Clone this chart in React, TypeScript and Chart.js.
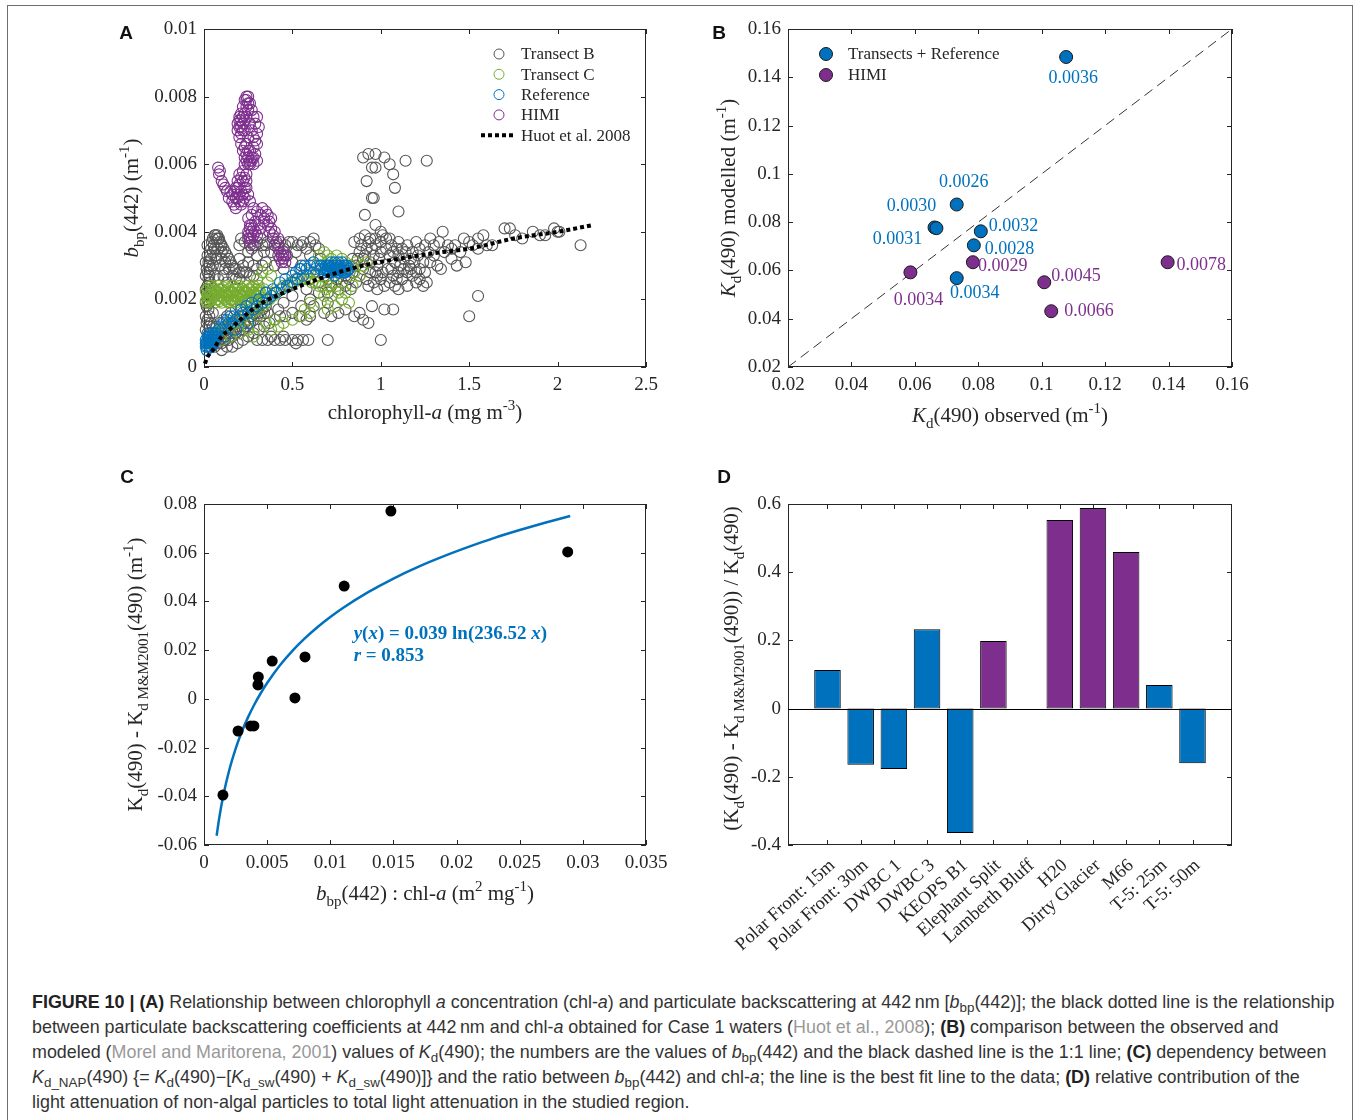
import React, { useEffect, useRef } from "react";
import { Chart, registerables } from "chart.js";

Chart.register(...registerables);

const SERIF = '"Liberation Serif", "Times New Roman", Times, serif';
const SANS = '"Liberation Sans", Arial, Helvetica, sans-serif';
const AXIS_COLOR = "#262626";
const GRAY = "#555555";
const GREEN = "#77AC30";
const BLUE = "#0072BD";
const PURPLE = "#7E2F8E";

// ---------------- Panel A: chl-a vs bbp(442) ----------------
const aXTicks = [0, 0.5, 1, 1.5, 2, 2.5];
const aYTicks = [0, 0.002, 0.004, 0.006, 0.008, 0.01];

const transectB: [number, number][] = [
  [0.02, 0.002], [0.02, 0.0024], [0.02, 0.0028], [0.025, 0.0026], [0.03, 0.003], [0.03, 0.0022], [0.035, 0.0033],
  [0.04, 0.0035], [0.045, 0.0037], [0.05, 0.0038], [0.06, 0.0039], [0.07, 0.0038], [0.08, 0.0038], [0.09, 0.0037],
  [0.1, 0.0036], [0.11, 0.0035], [0.12, 0.0034], [0.13, 0.0033], [0.14, 0.0032], [0.15, 0.0031], [0.16, 0.003],
  [0.17, 0.0029], [0.18, 0.0029], [0.2, 0.0028], [0.22, 0.0028], [0.24, 0.0028], [0.26, 0.0027], [0.28, 0.0027],
  [0.05, 0.003], [0.07, 0.0032], [0.09, 0.003], [0.1, 0.0032], [0.12, 0.0029], [0.08, 0.0026], [0.06, 0.0027],
  [0.04, 0.0029], [0.11, 0.0027], [0.13, 0.0025], [0.02, 0.001], [0.02, 0.0014], [0.025, 0.0017], [0.03, 0.0012],
  [0.03, 0.0008], [0.04, 0.001], [0.05, 0.0012], [0.06, 0.0009], [0.02, 0.0033], [0.015, 0.0029], [0.015, 0.0022],
  [0.015, 0.0018], [0.015, 0.0013],
  [0.01, 0.0007], [0.01, 0.0011], [0.01, 0.0015], [0.01, 0.0019], [0.01, 0.0023], [0.01, 0.0027], [0.01, 0.0031],
  [0.02, 0.0036], [0.025, 0.0031], [0.03, 0.0027], [0.03, 0.0019], [0.03, 0.0015], [0.035, 0.0025], [0.04, 0.0032],
  [0.04, 0.0013], [0.045, 0.0022], [0.05, 0.0034], [0.05, 0.0016], [0.055, 0.0036], [0.06, 0.0035], [0.065, 0.0039],
  [0.075, 0.0039], [0.085, 0.0038], [0.095, 0.0036], [0.065, 0.0033], [0.08, 0.0035], [0.1, 0.0034], [0.12, 0.0031],
  [0.14, 0.0029], [0.16, 0.0027], [0.18, 0.0026], [0.2, 0.0026],
  [0.2, 0.0036], [0.23, 0.0037], [0.26, 0.0036], [0.3, 0.0037], [0.33, 0.0036], [0.36, 0.0037], [0.4, 0.0036],
  [0.43, 0.0037], [0.46, 0.0036], [0.5, 0.0037], [0.53, 0.0036], [0.56, 0.0037], [0.6, 0.0037], [0.63, 0.0036],
  [0.38, 0.0034], [0.45, 0.0035], [0.52, 0.0034], [0.3, 0.0033], [0.25, 0.0034], [0.42, 0.0033], [0.58, 0.0035],
  [0.35, 0.0031], [0.28, 0.003], [0.4, 0.003], [0.5, 0.0031], [0.45, 0.0029], [0.55, 0.003], [0.2, 0.0032],
  [0.22, 0.003], [0.25, 0.0031], [0.3, 0.0029], [0.33, 0.003],
  [0.21, 0.0038], [0.25, 0.0038], [0.29, 0.0036], [0.32, 0.0038], [0.35, 0.0036], [0.39, 0.0038], [0.42, 0.0036],
  [0.48, 0.0037], [0.55, 0.0036], [0.62, 0.0038], [0.65, 0.0035], [0.27, 0.0035], [0.34, 0.0034], [0.47, 0.0033],
  [0.6, 0.0033], [0.66, 0.0032],
  [0.04, 0.0006], [0.06, 0.0006], [0.08, 0.0007], [0.1, 0.0007], [0.12, 0.0008], [0.14, 0.0008], [0.16, 0.0009],
  [0.18, 0.001], [0.2, 0.001], [0.22, 0.0011], [0.24, 0.0012], [0.26, 0.0013], [0.28, 0.0014], [0.3, 0.0015],
  [0.32, 0.0015], [0.34, 0.0016], [0.36, 0.0016], [0.1, 0.001], [0.12, 0.0011], [0.15, 0.0012], [0.17, 0.0013],
  [0.2, 0.0014], [0.22, 0.0015], [0.25, 0.0016], [0.08, 0.0009], [0.1, 0.0005], [0.13, 0.0006], [0.16, 0.0006],
  [0.19, 0.0007], [0.22, 0.0008], [0.25, 0.0009], [0.28, 0.001], [0.31, 0.0011], [0.34, 0.0012], [0.37, 0.0013],
  [0.4, 0.0014], [0.43, 0.0015], [0.46, 0.0015], [0.5, 0.0016], [0.54, 0.0015], [0.58, 0.0014], [0.6, 0.0015],
  [0.05, 0.0007], [0.07, 0.0008], [0.09, 0.0008], [0.11, 0.0009], [0.13, 0.001], [0.15, 0.001], [0.17, 0.0011],
  [0.19, 0.0012], [0.21, 0.0012], [0.23, 0.0013], [0.25, 0.0014], [0.27, 0.0015], [0.29, 0.0016], [0.31, 0.0016],
  [0.33, 0.0017], [0.35, 0.0018], [0.07, 0.0012], [0.09, 0.0013], [0.11, 0.0014], [0.13, 0.0015], [0.15, 0.0016],
  [0.18, 0.0017], [0.21, 0.0018], [0.24, 0.0019],
  [0.3, 0.0008], [0.33, 0.0008], [0.36, 0.0008], [0.4, 0.0008], [0.43, 0.0008], [0.46, 0.0008], [0.5, 0.0008],
  [0.53, 0.0008], [0.56, 0.0008], [0.59, 0.0008], [0.38, 0.0009], [0.45, 0.0009], [0.52, 0.0007], [0.7, 0.0008],
  [1.0, 0.0008],
  [0.35, 0.002], [0.4, 0.0022], [0.45, 0.0019], [0.5, 0.0021], [0.55, 0.0018], [0.6, 0.002], [0.65, 0.0022],
  [0.42, 0.0017], [0.48, 0.0024], [0.52, 0.0026], [0.58, 0.0023], [0.62, 0.0018], [0.68, 0.0016], [0.7, 0.0019],
  [0.72, 0.0015], [0.76, 0.0016], [0.8, 0.0017], [0.85, 0.0015], [0.9, 0.0014], [0.93, 0.0013], [0.95, 0.0018],
  [1.02, 0.0017], [1.07, 0.0017], [0.88, 0.0016],
  [0.6, 0.0026], [0.62, 0.0028], [0.65, 0.0025], [0.68, 0.0027], [0.7, 0.0026], [0.72, 0.0024], [0.75, 0.0026],
  [0.78, 0.0025], [0.8, 0.0027], [0.82, 0.0026], [0.84, 0.0028], [0.86, 0.0025], [0.88, 0.0027], [0.9, 0.0029],
  [0.92, 0.0026], [0.94, 0.0028], [0.96, 0.0025], [0.98, 0.0027], [1.0, 0.0026], [0.86, 0.003], [0.9, 0.0032],
  [0.94, 0.0031], [0.98, 0.003], [0.88, 0.0034], [0.92, 0.0035], [0.96, 0.0033], [1.0, 0.0034], [0.85, 0.0037],
  [0.88, 0.0038], [0.91, 0.0039], [0.94, 0.0038], [0.97, 0.0038], [1.0, 0.0037], [1.03, 0.0038], [1.06, 0.0036],
  [1.1, 0.0037], [1.12, 0.0035], [1.15, 0.0036], [1.18, 0.0034], [1.2, 0.0037], [1.22, 0.0035], [1.25, 0.0036],
  [1.28, 0.0038], [1.3, 0.0036], [1.33, 0.0037], [1.35, 0.004], [1.05, 0.0033], [1.08, 0.0031], [1.1, 0.0033],
  [1.13, 0.0032], [1.16, 0.003], [1.19, 0.0031], [1.22, 0.0029], [1.04, 0.0029], [1.07, 0.0027], [1.1, 0.0028],
  [1.12, 0.0026], [1.15, 0.0028], [1.18, 0.0027], [1.2, 0.0025], [1.22, 0.0026], [1.24, 0.0024], [1.26, 0.0025],
  [1.08, 0.0024], [1.1, 0.0023], [1.05, 0.0025], [1.02, 0.0024], [0.98, 0.0023], [1.15, 0.0024], [1.25, 0.0028],
  [1.28, 0.0031], [1.3, 0.0033], [1.32, 0.003], [1.34, 0.0029], [1.36, 0.0034], [1.38, 0.0036],
  [0.87, 0.0032], [0.91, 0.0033], [0.95, 0.0035], [0.99, 0.0032], [1.03, 0.0035], [1.07, 0.0034], [1.11, 0.003],
  [1.14, 0.0034], [1.17, 0.0032], [1.21, 0.0033], [1.24, 0.0031], [1.27, 0.0034], [1.06, 0.0029], [1.09, 0.0026],
  [1.13, 0.0029], [1.17, 0.0029], [1.2, 0.0028], [0.93, 0.0024], [0.97, 0.0028], [1.01, 0.0028], [0.89, 0.0036],
  [0.93, 0.0037], [0.97, 0.0036], [1.01, 0.0039], [1.05, 0.0038], [1.09, 0.0035], [0.84, 0.0032], [0.82, 0.0029],
  [0.8, 0.0024], [0.83, 0.0023], [0.76, 0.0023], [0.7, 0.0022],
  [1.4, 0.0035], [1.42, 0.0036], [1.45, 0.0034], [1.47, 0.0038], [1.5, 0.0037], [1.52, 0.0036], [1.55, 0.0038],
  [1.58, 0.0039], [1.6, 0.0036], [1.63, 0.0036], [1.48, 0.0031], [1.55, 0.0035], [1.7, 0.0041], [1.73, 0.0041],
  [1.76, 0.0039], [1.8, 0.0038], [1.86, 0.004], [1.9, 0.0039], [1.93, 0.0039], [1.98, 0.0041], [2.0, 0.004],
  [2.01, 0.004], [2.13, 0.0036], [1.5, 0.0015], [1.55, 0.0021], [1.4, 0.0032], [1.43, 0.003],
  [0.9, 0.0062], [0.93, 0.0063], [0.97, 0.0063], [1.02, 0.0062], [1.14, 0.0061], [1.26, 0.0061], [0.92, 0.0055],
  [0.95, 0.0059], [0.97, 0.0059], [1.05, 0.006], [1.07, 0.0057], [1.08, 0.0053], [0.95, 0.005], [0.96, 0.005],
  [0.91, 0.0045], [1.1, 0.0046], [0.97, 0.0042], [1.0, 0.004],
];

const transectC: [number, number][] = [
  [0.02, 0.0019], [0.02, 0.0021], [0.02, 0.0023], [0.04, 0.002], [0.04, 0.0022], [0.04, 0.0024], [0.06, 0.0019],
  [0.06, 0.0021], [0.06, 0.0023], [0.08, 0.002], [0.08, 0.0022], [0.08, 0.0024], [0.1, 0.0019], [0.1, 0.0021],
  [0.1, 0.0023], [0.12, 0.002], [0.12, 0.0022], [0.12, 0.0024], [0.14, 0.0019], [0.14, 0.0021], [0.14, 0.0023],
  [0.16, 0.002], [0.16, 0.0022], [0.16, 0.0024], [0.18, 0.0019], [0.18, 0.0021], [0.18, 0.0023], [0.2, 0.002],
  [0.2, 0.0022], [0.2, 0.0024], [0.22, 0.0021], [0.22, 0.0023], [0.24, 0.002], [0.24, 0.0022], [0.24, 0.0024],
  [0.26, 0.0021], [0.26, 0.0023], [0.28, 0.0022], [0.28, 0.0024], [0.3, 0.0021], [0.3, 0.0023], [0.32, 0.0022],
  [0.34, 0.0023], [0.36, 0.0025], [0.3, 0.0026], [0.33, 0.0028], [0.36, 0.0029], [0.38, 0.0027],
  [0.01, 0.00195], [0.03, 0.00205], [0.05, 0.00215], [0.07, 0.00225], [0.09, 0.00195], [0.11, 0.00205],
  [0.13, 0.00215], [0.15, 0.00225], [0.17, 0.00195], [0.19, 0.00205], [0.21, 0.00215], [0.23, 0.00225],
  [0.25, 0.00195], [0.27, 0.00205], [0.29, 0.00215], [0.31, 0.00225], [0.33, 0.00205], [0.01, 0.00225],
  [0.03, 0.00195], [0.05, 0.00235], [0.07, 0.002], [0.09, 0.0023], [0.11, 0.00235], [0.13, 0.00195], [0.15, 0.002],
  [0.17, 0.0023], [0.19, 0.00235], [0.21, 0.002], [0.23, 0.00195], [0.25, 0.0023], [0.27, 0.00235], [0.29, 0.002],
  [0.31, 0.0024], [0.35, 0.0022],
  [0.025, 0.0021], [0.045, 0.0021], [0.065, 0.0022], [0.085, 0.0021], [0.105, 0.0022], [0.125, 0.0021],
  [0.145, 0.0022], [0.165, 0.0021], [0.185, 0.0022], [0.205, 0.0021], [0.225, 0.0022], [0.245, 0.0021],
  [0.265, 0.0022], [0.285, 0.0021], [0.305, 0.0022],
  [0.03, 0.0008], [0.05, 0.0009], [0.07, 0.001], [0.09, 0.0011], [0.11, 0.0011], [0.13, 0.0012], [0.15, 0.0013],
  [0.17, 0.0013], [0.19, 0.0014], [0.21, 0.0014], [0.23, 0.0015], [0.25, 0.0016], [0.27, 0.0016], [0.29, 0.0017],
  [0.31, 0.0017], [0.33, 0.0018], [0.35, 0.0019], [0.37, 0.002], [0.39, 0.0021], [0.41, 0.0022], [0.43, 0.0023],
  [0.45, 0.0024], [0.47, 0.0024], [0.49, 0.0025], [0.51, 0.0025], [0.53, 0.0026], [0.55, 0.0026], [0.57, 0.0026],
  [0.59, 0.0026], [0.61, 0.0025], [0.63, 0.0025], [0.65, 0.0024], [0.67, 0.0024], [0.69, 0.0023], [0.71, 0.0024],
  [0.73, 0.0025],
  [0.2, 0.001], [0.25, 0.0011], [0.3, 0.0012], [0.35, 0.0013], [0.4, 0.0014], [0.45, 0.0013], [0.5, 0.0014],
  [0.55, 0.0015], [0.6, 0.0016], [0.38, 0.0011], [0.42, 0.0012], [0.28, 0.0009], [0.15, 0.0009], [0.1, 0.0008],
  [0.66, 0.0019], [0.7, 0.0017], [0.74, 0.0018], [0.78, 0.002], [0.8, 0.0022], [0.82, 0.0019], [0.76, 0.0022],
  [0.72, 0.0021], [0.68, 0.0021], [0.75, 0.0024], [0.84, 0.0024], [0.6, 0.0019], [0.57, 0.0017],
  [0.62, 0.0031], [0.65, 0.0033], [0.68, 0.0034], [0.7, 0.0033], [0.72, 0.0032], [0.75, 0.0033], [0.78, 0.0032],
  [0.8, 0.0031], [0.83, 0.003], [0.86, 0.0031], [0.9, 0.003], [0.66, 0.003], [0.69, 0.0029], [0.85, 0.0028],
  [0.88, 0.0027], [0.6, 0.0028], [0.64, 0.0027], [0.92, 0.0031], [0.7, 0.0031], [0.76, 0.003],
];

const reference: [number, number][] = [
  [0.02, 0.0006], [0.025, 0.0007], [0.03, 0.0006], [0.03, 0.0008], [0.035, 0.0007], [0.04, 0.0008], [0.04, 0.0006],
  [0.045, 0.0009], [0.05, 0.0008], [0.055, 0.0009], [0.06, 0.001], [0.07, 0.001], [0.08, 0.0011], [0.1, 0.0011],
  [0.01, 0.0006], [0.015, 0.0007], [0.02, 0.0008], [0.025, 0.0009], [0.03, 0.001], [0.035, 0.0009], [0.04, 0.0007],
  [0.045, 0.0007], [0.05, 0.001], [0.055, 0.0007], [0.015, 0.0005], [0.06, 0.0008], [0.065, 0.0009], [0.02, 0.0009],
  [0.01, 0.0008],
  [0.12, 0.0012], [0.14, 0.0013], [0.16, 0.0013], [0.18, 0.0014], [0.2, 0.0015], [0.22, 0.0016], [0.25, 0.0016],
  [0.28, 0.0017], [0.3, 0.0018], [0.33, 0.0019], [0.36, 0.002], [0.38, 0.0021], [0.41, 0.0022], [0.44, 0.0023],
  [0.47, 0.0024], [0.5, 0.0025], [0.53, 0.0026], [0.56, 0.0027], [0.58, 0.0029], [0.6, 0.003], [0.55, 0.0029],
  [0.52, 0.0028], [0.12, 0.0009], [0.18, 0.0011], [0.25, 0.0013],
  [0.09, 0.0012], [0.11, 0.0013], [0.13, 0.0014], [0.15, 0.0015], [0.17, 0.0015], [0.21, 0.0017], [0.24, 0.0018],
  [0.27, 0.0019], [0.31, 0.002], [0.35, 0.0022], [0.39, 0.0023], [0.43, 0.0025], [0.46, 0.0026], [0.5, 0.0027],
  [0.54, 0.0029], [0.57, 0.003], [0.62, 0.0031], [0.64, 0.003],
  [0.63, 0.0029], [0.66, 0.0029], [0.68, 0.0028], [0.7, 0.0029], [0.72, 0.0028], [0.74, 0.0029], [0.76, 0.0028],
  [0.78, 0.0029], [0.8, 0.003], [0.71, 0.003], [0.73, 0.003], [0.75, 0.003], [0.77, 0.003], [0.79, 0.0028],
  [0.69, 0.003], [0.74, 0.0027], [0.7, 0.00285], [0.72, 0.00295], [0.74, 0.00285], [0.76, 0.00295], [0.78, 0.00285],
  [0.8, 0.00285], [0.82, 0.0029], [0.71, 0.0028], [0.73, 0.0029], [0.75, 0.0029], [0.77, 0.0029], [0.79, 0.003],
  [0.81, 0.003], [0.68, 0.0029], [0.66, 0.003], [0.8, 0.0028], [0.76, 0.0031], [0.72, 0.0031],
  [0.69, 0.00285], [0.71, 0.00295], [0.73, 0.00285], [0.75, 0.00285], [0.77, 0.00285], [0.79, 0.00295],
  [0.81, 0.00285], [0.7, 0.003], [0.78, 0.0031], [0.74, 0.0031],
];

const himi: [number, number][] = [
  [0.2, 0.0073], [0.21, 0.0075], [0.22, 0.0077], [0.23, 0.0079], [0.24, 0.008], [0.25, 0.008], [0.26, 0.0078],
  [0.27, 0.0076], [0.28, 0.0074], [0.2, 0.0071], [0.21, 0.0069], [0.22, 0.0072], [0.23, 0.007], [0.24, 0.0074],
  [0.25, 0.0076], [0.26, 0.0072], [0.27, 0.007], [0.28, 0.0068], [0.3, 0.0074], [0.29, 0.0072], [0.21, 0.0066],
  [0.22, 0.0064], [0.23, 0.0062], [0.24, 0.0061], [0.25, 0.006], [0.26, 0.0061], [0.27, 0.0062], [0.28, 0.006],
  [0.29, 0.0063], [0.3, 0.0061], [0.26, 0.0064], [0.24, 0.0066], [0.25, 0.0068],
  [0.19, 0.0072], [0.2, 0.0074], [0.21, 0.0073], [0.22, 0.0074], [0.23, 0.0073], [0.19, 0.007], [0.21, 0.0071],
  [0.22, 0.007], [0.2, 0.0068], [0.23, 0.0075], [0.24, 0.0077], [0.25, 0.0078], [0.24, 0.0079],
  [0.23, 0.006], [0.24, 0.0063], [0.25, 0.0062], [0.26, 0.006], [0.27, 0.0061], [0.25, 0.0064], [0.23, 0.0065],
  [0.28, 0.0062], [0.28, 0.0065], [0.29, 0.0067], [0.3, 0.0069], [0.31, 0.0071], [0.3, 0.0066],
  [0.08, 0.0059], [0.09, 0.0058], [0.085, 0.0057], [0.1, 0.0055], [0.11, 0.0054], [0.12, 0.0053], [0.13, 0.0052],
  [0.14, 0.005], [0.16, 0.0051], [0.18, 0.0053], [0.2, 0.0054], [0.22, 0.0055], [0.24, 0.0053], [0.25, 0.0051],
  [0.17, 0.0048], [0.19, 0.005], [0.21, 0.0048], [0.23, 0.005], [0.2, 0.0057], [0.22, 0.0058], [0.18, 0.0047],
  [0.24, 0.0057], [0.15, 0.0052], [0.17, 0.0052], [0.19, 0.0053], [0.2, 0.0051], [0.21, 0.0052], [0.22, 0.0051],
  [0.23, 0.0053], [0.24, 0.0055], [0.18, 0.005], [0.2, 0.0049], [0.22, 0.0049], [0.16, 0.0049], [0.19, 0.0055],
  [0.21, 0.0056], [0.23, 0.0056],
  [0.26, 0.0049], [0.28, 0.0047], [0.3, 0.0046], [0.32, 0.0045], [0.34, 0.0044], [0.36, 0.0045],
  [0.38, 0.0044], [0.27, 0.0045], [0.29, 0.0043], [0.31, 0.0042], [0.25, 0.0044], [0.26, 0.0042], [0.27, 0.004],
  [0.25, 0.0039], [0.27, 0.0038], [0.26, 0.0037], [0.28, 0.0036], [0.38, 0.0041], [0.4, 0.004], [0.42, 0.0038],
  [0.4, 0.0036], [0.43, 0.0034], [0.45, 0.0033], [0.45, 0.0032], [0.44, 0.0031], [0.46, 0.0031], [0.36, 0.0042],
  [0.33, 0.0047], [0.26, 0.0041], [0.27, 0.0042], [0.28, 0.0039], [0.25, 0.004], [0.26, 0.0038], [0.28, 0.0041],
  [0.29, 0.004], [0.3, 0.0039], [0.32, 0.0041], [0.34, 0.0043], [0.43, 0.0032], [0.44, 0.0033], [0.46, 0.0033],
  [0.45, 0.0034], [0.42, 0.0035], [0.41, 0.0037], [0.39, 0.0039], [0.37, 0.004], [0.35, 0.0046], [0.37, 0.0043],
];

const huot: [number, number][] = [
  [0.005, 0.0001], [0.02, 0.0003], [0.05, 0.0005], [0.1, 0.0009], [0.16, 0.00118], [0.25, 0.0016], [0.33, 0.0019],
  [0.5, 0.0023], [0.7, 0.0027], [0.9, 0.003], [1.1, 0.0032], [1.32, 0.00338], [1.5, 0.0035], [1.75, 0.0038],
  [2.0, 0.004], [2.2, 0.0042],
];

const legendOrderA = ["Transect B", "Transect C", "Reference", "HIMI", "Huot et al. 2008"];

// ---------------- Panel B: Kd observed vs modelled ----------------
const bTicks = [0.02, 0.04, 0.06, 0.08, 0.1, 0.12, 0.14, 0.16];
const kdObsTransects = [0.1077, 0.0732, 0.0662, 0.0668, 0.0808, 0.0786, 0.0732];
const kdModTransects = [0.1484, 0.0873, 0.0778, 0.0775, 0.0762, 0.0704, 0.0568];
const bbpTransects = ["0.0036", "0.0026", "0.0030", "0.0031", "0.0032", "0.0028", "0.0034"];
const kdObsHimi = [0.0586, 0.0783, 0.1008, 0.103, 0.1397];
const kdModHimi = [0.0592, 0.0634, 0.0551, 0.0431, 0.0634];
const bbpHimi = ["0.0034", "0.0029", "0.0045", "0.0066", "0.0078"];
const oneToOne = [0.02, 0.16];
// label placement (pixel offsets from the marker, text alignment)
const labelOffsetsTransects: [number, number, CanvasTextAlign][] = [
  [7, 21, "center"], [7, -22, "center"], [-23, -21, "center"], [-39, 11, "center"],
  [8, -5, "left"], [11, 4, "left"], [18, 15, "center"],
];
const labelOffsetsHimi: [number, number, CanvasTextAlign][] = [
  [8, 28, "center"], [5, 4, "left"], [7, -6, "left"], [13, 0, "left"], [9, 3, "left"],
];

// ---------------- Panel C: ratio vs Kd difference ----------------
const cXTicks = [0, 0.005, 0.01, 0.015, 0.02, 0.025, 0.03, 0.035];
const cYTicks = [-0.06, -0.04, -0.02, 0, 0.02, 0.04, 0.06, 0.08];
const ratioC = [0.0015, 0.0027, 0.0037, 0.00395, 0.00427, 0.0043, 0.0054, 0.0072, 0.008, 0.0111, 0.0148, 0.0288];
const diffC = [-0.0395, -0.0132, -0.0111, -0.0111, 0.0057, 0.009, 0.0155, 0.0004, 0.0172, 0.0463, 0.0771, 0.0603];
const fitC: [number, number][] = [
  [0.001, -0.0562], [0.0012, -0.0491], [0.0015, -0.0404], [0.002, -0.0292], [0.0025, -0.0205], [0.003, -0.0134],
  [0.0035, -0.0074], [0.004, -0.0022], [0.0045, 0.0024], [0.005, 0.0065], [0.006, 0.0137], [0.007, 0.0197],
  [0.008, 0.0249], [0.009, 0.0295], [0.01, 0.0336], [0.011, 0.0373], [0.013, 0.0438], [0.015, 0.0494],
  [0.017, 0.0543], [0.019, 0.0586], [0.021, 0.0625], [0.023, 0.0661], [0.025, 0.0693], [0.027, 0.0723],
  [0.029, 0.0751],
];
const fitEquation = { coef: "0.039", scale: "236.52", r: "0.853" };
const fitTextAnchor = { x: 0.01185, y: 0.027 };

// ---------------- Panel D: relative contribution ----------------
const dYTicks = [-0.4, -0.2, 0, 0.2, 0.4, 0.6];
const sites = [
  "Polar Front: 15m", "Polar Front: 30m", "DWBC 1", "DWBC 3", "KEOPS B1", "Elephant Split",
  "Lamberth Bluff", "H20", "Dirty Glacier", "M66", "T-5: 25m", "T-5: 50m",
];
const contribution = [0.113, -0.165, -0.177, 0.233, -0.365, 0.198, 0.0, 0.553, 0.588, 0.459, 0.069, -0.16];
const siteGroup = ["T", "T", "T", "T", "T", "H", "H", "H", "H", "H", "T", "T"];

// ---------------- helpers ----------------
type Seg = { t: string; sub?: boolean; sup?: boolean; it?: boolean; b?: boolean };

const fmt = (v: any) => String(parseFloat(Number(v).toFixed(4)));

function richText(ctx: CanvasRenderingContext2D, segs: Seg[], x: number, y: number, size: number, color: string,
  rotate = 0, align: "center" | "left" = "center", family = SERIF) {
  ctx.save();
  ctx.translate(x, y);
  if (rotate) ctx.rotate(rotate);
  ctx.fillStyle = color;
  ctx.textBaseline = "alphabetic";
  ctx.textAlign = "left";
  const fontFor = (s: Seg) =>
    `${s.it ? "italic " : ""}${s.b ? "bold " : ""}${s.sub || s.sup ? Math.round(size * 0.72) : size}px ${family}`;
  let total = 0;
  const widths = segs.map((s) => {
    ctx.font = fontFor(s);
    const w = ctx.measureText(s.t).width;
    total += w;
    return w;
  });
  let cx = align === "center" ? -total / 2 : 0;
  const base = size * 0.33;
  segs.forEach((s, i) => {
    ctx.font = fontFor(s);
    const dy = s.sub ? size * 0.3 : s.sup ? -size * 0.42 : 0;
    ctx.fillText(s.t, cx, base + dy);
    cx += widths[i];
  });
  ctx.restore();
}

function valueAxis(min: number, max: number, ticks: number[], fit: "width" | "height", size: number, extra: any = {}) {
  return {
    type: "linear",
    min,
    max,
    offset: false,
    grid: { display: false, drawTicks: false, offset: false },
    border: { display: false },
    afterBuildTicks: (s: any) => {
      s.ticks = ticks.map((v) => ({ value: v }));
    },
    afterFit: (s: any) => {
      s[fit] = size;
      s.paddingLeft = 0;
      s.paddingRight = 0;
      s.paddingTop = 0;
      s.paddingBottom = 0;
    },
    ticks: {
      color: AXIS_COLOR,
      font: { family: SERIF, size: 19 },
      padding: 7,
      autoSkip: false,
      maxRotation: 0,
      minRotation: 0,
      callback: (v: any) => fmt(v),
      ...extra,
    },
  };
}

function baseOptions(x: any, y: any, padTop: number, padRight: number) {
  return {
    responsive: false,
    animation: false,
    events: [],
    layout: { autoPadding: false, padding: { top: padTop, right: padRight, left: 0, bottom: 0 } },
    plugins: { legend: { display: false }, tooltip: { enabled: false }, title: { display: false } },
    scales: { x, y },
  };
}

const axesPlugin = {
  id: "matlabAxes",
  beforeDatasetsDraw(chart: any) {
    const { ctx, chartArea: a, scales } = chart;
    ctx.save();
    ctx.strokeStyle = AXIS_COLOR;
    ctx.lineWidth = 1;
    ctx.strokeRect(a.left + 0.5, a.top + 0.5, a.right - a.left - 1, a.bottom - a.top - 1);
    const xs = scales.x;
    const ys = scales.y;
    ctx.beginPath();
    xs.ticks.forEach((_: any, i: number) => {
      const p = Math.round(xs.getPixelForTick(i)) + 0.5;
      ctx.moveTo(p, a.bottom);
      ctx.lineTo(p, a.bottom - 5);
      ctx.moveTo(p, a.top);
      ctx.lineTo(p, a.top + 5);
    });
    ys.ticks.forEach((_: any, i: number) => {
      const p = Math.round(ys.getPixelForTick(i)) + 0.5;
      ctx.moveTo(a.left, p);
      ctx.lineTo(a.left + 5, p);
      ctx.moveTo(a.right, p);
      ctx.lineTo(a.right - 5, p);
    });
    ctx.stroke();
    ctx.restore();
  },
};

function titlesPlugin(xTitle: Seg[] | null, xOffset: number, yTitle: Seg[] | null, yOffset: number, yShift = 0) {
  return {
    id: "axisTitles",
    afterDraw(chart: any) {
      const { ctx, chartArea: a } = chart;
      if (xTitle) richText(ctx, xTitle, (a.left + a.right) / 2, a.bottom + xOffset, 21, AXIS_COLOR);
      if (yTitle) richText(ctx, yTitle, a.left - yOffset, (a.top + a.bottom) / 2 + yShift, 21, AXIS_COLOR, -Math.PI / 2);
    },
  };
}

const pts = (arr: [number, number][]) => arr.map(([x, y]) => ({ x, y }));

// ---------------- chart configs ----------------
function configA() {
  const circles = (data: [number, number][], color: string, order: number, label: string) => ({
    label,
    data: pts(data),
    showLine: false,
    pointRadius: 5.5,
    pointHoverRadius: 5.5,
    pointBorderWidth: 1.1,
    pointBorderColor: color,
    pointBackgroundColor: "rgba(0,0,0,0)",
    borderColor: color,
    backgroundColor: "rgba(0,0,0,0)",
    order,
    clip: false,
  });
  const legendA = {
    id: "legendA",
    afterDatasetsDraw(chart: any) {
      const { ctx, chartArea: a } = chart;
      ctx.save();
      ctx.font = `17px ${SERIF}`;
      ctx.textBaseline = "middle";
      legendOrderA.forEach((name, i) => {
        const ds = chart.data.datasets.find((d: any) => d.label === name);
        const y = a.top + 25 + i * 20.3;
        if (ds.showLine) {
          ctx.beginPath();
          ctx.setLineDash([4, 3]);
          ctx.lineWidth = 4;
          ctx.strokeStyle = ds.borderColor;
          ctx.moveTo(a.left + 277, y);
          ctx.lineTo(a.left + 312, y);
          ctx.stroke();
          ctx.setLineDash([]);
        } else {
          ctx.beginPath();
          ctx.lineWidth = 1;
          ctx.strokeStyle = ds.pointBorderColor;
          ctx.arc(a.left + 295, y, 5, 0, Math.PI * 2);
          ctx.stroke();
        }
        ctx.fillStyle = AXIS_COLOR;
        ctx.fillText(name, a.left + 317, y + 1);
      });
      ctx.restore();
    },
  };
  return {
    type: "scatter",
    data: {
      datasets: [
        {
          label: "Huot et al. 2008",
          data: pts(huot),
          showLine: true,
          borderColor: "#000000",
          borderWidth: 4,
          borderDash: [4, 3],
          borderCapStyle: "butt",
          pointRadius: 0,
          cubicInterpolationMode: "monotone",
          order: 0,
          clip: false,
        },
        circles(himi, PURPLE, 1, "HIMI"),
        circles(reference, BLUE, 2, "Reference"),
        circles(transectC, GREEN, 3, "Transect C"),
        circles(transectB, GRAY, 4, "Transect B"),
      ],
    },
    options: baseOptions(
      valueAxis(0, 2.5, aXTicks, "height", 78),
      valueAxis(0, 0.01, aYTicks, "width", 104),
      19,
      24
    ),
    plugins: [
      axesPlugin,
      titlesPlugin(
        [{ t: "chlorophyll-" }, { t: "a", it: true }, { t: " (mg m" }, { t: "-3", sup: true }, { t: ")" }], 45,
        [{ t: "b", it: true }, { t: "bp", sub: true }, { t: "(442) (m" }, { t: "-1", sup: true }, { t: ")" }], 73
      ),
      legendA,
    ],
  };
}

function configB() {
  const filled = (xs: number[], ys: number[], color: string, label: string, order: number) => ({
    label,
    data: xs.map((x, i) => ({ x, y: ys[i] })),
    showLine: false,
    pointRadius: 6.5,
    pointHoverRadius: 6.5,
    pointBorderWidth: 1,
    pointBorderColor: "#1a1a1a",
    pointBackgroundColor: color,
    borderColor: color,
    backgroundColor: color,
    order,
    clip: false,
  });
  const labelsB = {
    id: "labelsB",
    afterDatasetsDraw(chart: any) {
      const { ctx, scales } = chart;
      ctx.save();
      ctx.font = `18px ${SERIF}`;
      ctx.textBaseline = "middle";
      const draw = (xs: number[], ys: number[], texts: string[], offs: any[], color: string) => {
        ctx.fillStyle = color;
        texts.forEach((t, i) => {
          const px = scales.x.getPixelForValue(xs[i]);
          const py = scales.y.getPixelForValue(ys[i]);
          ctx.textAlign = offs[i][2];
          ctx.fillText(t, px + offs[i][0], py + offs[i][1]);
        });
      };
      draw(kdObsTransects, kdModTransects, bbpTransects, labelOffsetsTransects, BLUE);
      draw(kdObsHimi, kdModHimi, bbpHimi, labelOffsetsHimi, PURPLE);
      // legend
      const a = chart.chartArea;
      const entries = [chart.data.datasets[1], chart.data.datasets[2]];
      ctx.font = `17px ${SERIF}`;
      ctx.textAlign = "left";
      entries.forEach((ds: any, i: number) => {
        const y = a.top + 25 + i * 21;
        ctx.beginPath();
        ctx.arc(a.left + 38, y, 6.5, 0, Math.PI * 2);
        ctx.fillStyle = ds.pointBackgroundColor;
        ctx.fill();
        ctx.lineWidth = 1;
        ctx.strokeStyle = "#1a1a1a";
        ctx.stroke();
        ctx.fillStyle = AXIS_COLOR;
        ctx.fillText(ds.label, a.left + 60, y + 1);
      });
      ctx.restore();
    },
  };
  return {
    type: "scatter",
    data: {
      datasets: [
        {
          label: "1:1",
          data: oneToOne.map((v) => ({ x: v, y: v })),
          showLine: true,
          borderColor: "#333333",
          borderWidth: 1,
          borderDash: [10, 6],
          pointRadius: 0,
          order: 5,
        },
        filled(kdObsTransects, kdModTransects, BLUE, "Transects + Reference", 2),
        filled(kdObsHimi, kdModHimi, PURPLE, "HIMI", 1),
      ],
    },
    options: baseOptions(
      valueAxis(0.02, 0.16, bTicks, "height", 78),
      valueAxis(0.02, 0.16, bTicks, "width", 98),
      19,
      28
    ),
    plugins: [
      axesPlugin,
      titlesPlugin(
        [{ t: "K", it: true }, { t: "d", sub: true }, { t: "(490) observed (m" }, { t: "-1", sup: true }, { t: ")" }], 48,
        [{ t: "K", it: true }, { t: "d", sub: true }, { t: "(490) modelled (m" }, { t: "-1", sup: true }, { t: ")" }], 60
      ),
      labelsB,
    ],
  };
}

function configC() {
  const eqPlugin = {
    id: "equationC",
    afterDatasetsDraw(chart: any) {
      const { ctx, scales } = chart;
      const x = scales.x.getPixelForValue(fitTextAnchor.x);
      const y = scales.y.getPixelForValue(fitTextAnchor.y);
      richText(ctx, [
        { t: "y", it: true, b: true }, { t: "(", b: true }, { t: "x", it: true, b: true },
        { t: `) = ${fitEquation.coef} ln(${fitEquation.scale} `, b: true }, { t: "x", it: true, b: true }, { t: ")", b: true },
      ], x, y, 19, BLUE, 0, "left");
      richText(ctx, [{ t: "r", it: true, b: true }, { t: ` = ${fitEquation.r}`, b: true }], x, y + 21.5, 19, BLUE, 0, "left");
    },
  };
  return {
    type: "scatter",
    data: {
      datasets: [
        {
          label: "fit",
          data: pts(fitC),
          showLine: true,
          borderColor: BLUE,
          borderWidth: 2.5,
          pointRadius: 0,
          cubicInterpolationMode: "monotone",
          order: 1,
          clip: false,
        },
        {
          label: "data",
          data: ratioC.map((x, i) => ({ x, y: diffC[i] })),
          showLine: false,
          pointRadius: 5.5,
          pointHoverRadius: 5.5,
          pointBorderWidth: 0,
          pointBackgroundColor: "#000000",
          backgroundColor: "#000000",
          borderColor: "#000000",
          order: 0,
          clip: false,
        },
      ],
    },
    options: baseOptions(
      valueAxis(0, 0.035, cXTicks, "height", 80),
      valueAxis(-0.06, 0.08, cYTicks, "width", 104),
      49,
      24
    ),
    plugins: [
      axesPlugin,
      titlesPlugin(
        [{ t: "b", it: true }, { t: "bp", sub: true }, { t: "(442) : chl-" }, { t: "a", it: true }, { t: " (m" },
          { t: "2", sup: true }, { t: " mg" }, { t: "-1", sup: true }, { t: ")" }], 48,
        [{ t: "K" }, { t: "d", sub: true }, { t: "(490) - K" }, { t: "d M&M2001", sub: true }, { t: "(490) (m" },
          { t: "-1", sup: true }, { t: ")" }], 69
      ),
      eqPlugin,
    ],
  };
}

function configD() {
  const zeroLine = {
    id: "zeroLine",
    afterDatasetsDraw(chart: any) {
      const { ctx, chartArea: a, scales } = chart;
      const y = Math.round(scales.y.getPixelForValue(0)) + 0.5;
      ctx.save();
      ctx.strokeStyle = "#000000";
      ctx.lineWidth = 1;
      ctx.beginPath();
      ctx.moveTo(a.left, y);
      ctx.lineTo(a.right, y);
      ctx.stroke();
      ctx.restore();
    },
  };
  // rotated category labels, placed at the x scale's tick positions
  const siteLabels = {
    id: "siteLabels",
    afterDraw(chart: any) {
      const { ctx, chartArea: a, scales } = chart;
      ctx.save();
      ctx.font = `18.5px ${SERIF}`;
      ctx.fillStyle = AXIS_COLOR;
      ctx.textAlign = "right";
      ctx.textBaseline = "middle";
      scales.x.ticks.forEach((t: any, i: number) => {
        const px = scales.x.getPixelForTick(i);
        ctx.save();
        ctx.translate(px + 5, a.bottom + 18);
        ctx.rotate((-42 * Math.PI) / 180);
        ctx.fillText(sites[Math.round(t.value) - 1], 0, 0);
        ctx.restore();
      });
      ctx.restore();
    },
  };
  const xTickValues = sites.map((_, i) => i + 1);
  return {
    type: "bar",
    data: {
      datasets: [
        {
          label: "contribution",
          data: contribution.map((v, i) => ({ x: i + 1, y: v })),
          backgroundColor: siteGroup.map((g) => (g === "H" ? PURPLE : BLUE)),
          borderColor: "#000000",
          borderWidth: 1,
          borderSkipped: false,
          barPercentage: 0.8,
          categoryPercentage: 1,
        },
      ],
    },
    options: baseOptions(
      valueAxis(-0.19, 13.19, xTickValues, "height", 125, { display: false }),
      valueAxis(-0.4, 0.6, dYTicks, "width", 98),
      49,
      28
    ),
    plugins: [
      axesPlugin,
      titlesPlugin(null, 0,
        [{ t: "(K" }, { t: "d", sub: true }, { t: "(490) - K" }, { t: "d M&M2001", sub: true }, { t: "(490)) / K" },
          { t: "d", sub: true }, { t: "(490)" }], 57, -6),
      zeroLine,
      siteLabels,
    ],
  };
}

// ---------------- components ----------------
function ChartCanvas({ left, top, width, height, make }: any) {
  const ref = useRef<HTMLCanvasElement | null>(null);
  useEffect(() => {
    const chart = new Chart(ref.current as HTMLCanvasElement, make());
    return () => chart.destroy();
  }, []);
  return (
    <canvas
      ref={ref}
      width={width}
      height={height}
      style={{ position: "absolute", left, top, width, height }}
    />
  );
}

function Letter({ x, y, children }: any) {
  return (
    <div
      style={{
        position: "absolute", left: x - 15, top: y - 12, width: 30, height: 24, lineHeight: "24px",
        textAlign: "center", fontFamily: SANS, fontWeight: "bold", fontSize: 19, color: "#111",
      }}
    >
      {children}
    </div>
  );
}

const It = ({ children }: any) => <i>{children}</i>;
const Sub = ({ children }: any) => <span style={{ fontSize: "0.75em", verticalAlign: "-0.28em" }}>{children}</span>;
const Gr = ({ children }: any) => <span style={{ color: "#999999" }}>{children}</span>;
const Bd = ({ children }: any) => <b style={{ color: "#222" }}>{children}</b>;

function Caption() {
  const line = { whiteSpace: "nowrap" as const, height: 25 };
  return (
    <div
      style={{
        position: "absolute", left: 32, top: 990, fontFamily: SANS, fontSize: 17.9, lineHeight: "25px", color: "#333",
      }}
    >
      <div style={line}>
        <Bd>FIGURE 10 | (A)</Bd> Relationship between chlorophyll <It>a</It> concentration (chl-<It>a</It>) and particulate
        backscattering at 442&#8201;nm [<It>b</It><Sub>bp</Sub>(442)]; the black dotted line is the relationship
      </div>
      <div style={line}>
        between particulate backscattering coefficients at 442&#8201;nm and chl-<It>a</It> obtained for Case 1 waters (
        <Gr>Huot et al., 2008</Gr>); <Bd>(B)</Bd> comparison between the observed and
      </div>
      <div style={line}>
        modeled (<Gr>Morel and Maritorena, 2001</Gr>) values of <It>K</It><Sub>d</Sub>(490); the numbers are the values
        of <It>b</It><Sub>bp</Sub>(442) and the black dashed line is the 1:1 line; <Bd>(C)</Bd> dependency between
      </div>
      <div style={line}>
        <It>K</It><Sub>d_NAP</Sub>(490) {"{"}= <It>K</It><Sub>d</Sub>(490)−[<It>K</It><Sub>d_sw</Sub>(490) +{" "}
        <It>K</It><Sub>d_sw</Sub>(490)]{"}"} and the ratio between <It>b</It><Sub>bp</Sub>(442) and chl-<It>a</It>; the
        line is the best fit line to the data; <Bd>(D)</Bd> relative contribution of the
      </div>
      <div style={line}>light attenuation of non-algal particles to total light attenuation in the studied region.</div>
    </div>
  );
}

export default function App() {
  return (
    <div
      style={{
        position: "absolute", left: 0, top: 0, width: 1357, height: 1120, background: "#ffffff", overflow: "hidden",
      }}
    >
      <div
        style={{
          position: "absolute", left: 7, top: 5, width: 1346, height: 1140, border: "1.5px solid #6e6e6e",
          boxSizing: "border-box",
        }}
      />
      <ChartCanvas left={100} top={10} width={570} height={435} make={configA} />
      <ChartCanvas left={690} top={10} width={570} height={435} make={configB} />
      <ChartCanvas left={100} top={455} width={570} height={470} make={configC} />
      <ChartCanvas left={690} top={455} width={570} height={515} make={configD} />
      <Letter x={126} y={33}>A</Letter>
      <Letter x={719} y={33}>B</Letter>
      <Letter x={127} y={477}>C</Letter>
      <Letter x={724} y={477}>D</Letter>
      <Caption />
    </div>
  );
}
